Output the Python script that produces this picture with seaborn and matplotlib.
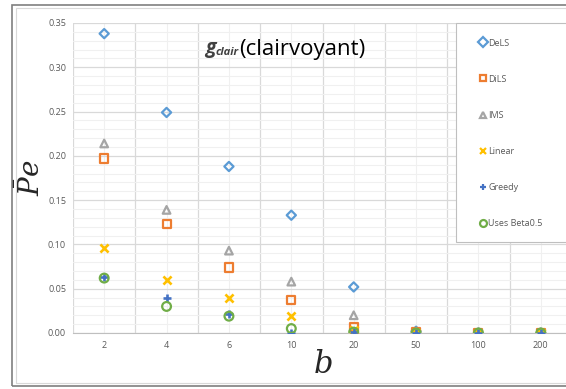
import numpy as np
import pandas as pd
import matplotlib
matplotlib.use("Agg")
import matplotlib.pyplot as plt
from matplotlib.lines import Line2D
from matplotlib.patches import Rectangle
import seaborn as sns

# datos
b_vals = ["2", "4", "6", "10", "20", "50", "100", "200"]
dels = [0.338, 0.249, 0.188, 0.133, 0.052, 0.002, 0.0, 0.0]
dils = [0.197, 0.123, 0.074, 0.037, 0.007, 0.001, 0.0, 0.0]
ims = [0.214, 0.139, 0.093, 0.058, 0.020, 0.001, 0.0, 0.0]
linear = [0.096, 0.060, 0.039, 0.019, 0.003, 0.0, 0.0, 0.0]
greedy = [0.063, 0.039, 0.021, 0.000, 0.001, 0.0, 0.0, 0.0]
beta05 = [0.062, 0.030, 0.019, 0.005, 0.001, 0.0, 0.0, 0.0]

series = ["DeLS", "DiLS", "IMS", "Linear", "Greedy", "Uses Beta0.5"]
colores = ["#5B9BD5", "#ED7D31", "#A5A5A5", "#FFC000", "#4472C4", "#70AD47"]
marcadores = ["D", "s", "^", "x", "+", "o"]
huecos = [True, True, True, False, False, True]
tamanos = [22, 34, 30, 34, 34, 40]

df = pd.DataFrame({"b": b_vals, "DeLS": dels, "DiLS": dils, "IMS": ims,
                   "Linear": linear, "Greedy": greedy, "Uses Beta0.5": beta05})
df_long = df.melt(id_vars="b", var_name="serie", value_name="Pe")

sns.set_style("white")
plt.rcParams["font.family"] = ["Open Sans", "DejaVu Sans"]
plt.rcParams["mathtext.fontset"] = "dejavuserif"

fig = plt.figure(figsize=(5.66, 3.89), dpi=100)
ax = fig.add_axes([73 / 566, 1 - 333 / 389, 499 / 566, 310 / 389])

for s, c, m, h, sz in zip(series, colores, marcadores, huecos, tamanos):
    d = df_long[df_long["serie"] == s]
    if h:
        sns.scatterplot(data=d, x="b", y="Pe", ax=ax, marker=m, s=sz,
                        facecolor="none", edgecolor=c, linewidth=1.6, zorder=3)
    else:
        sns.scatterplot(data=d, x="b", y="Pe", ax=ax, marker=m, s=sz,
                        color=c, linewidth=1.9, edgecolor=c, zorder=3)

ax.set_xlim(-0.5, 7.5)
ax.set_ylim(0, 0.35)

# ticks y rejilla
ax.set_xticks(np.arange(-0.5, 8, 1))
ax.set_xticklabels([])
ax.set_xticks(np.arange(0, 8), labels=b_vals, minor=True)
ax.set_yticks(np.arange(0, 0.351, 0.05))
ax.set_yticks(np.arange(0, 0.351, 0.01), minor=True)
ax.yaxis.set_major_formatter(matplotlib.ticker.FormatStrFormatter("%.2f"))
ax.grid(which="major", color="#D9D9D9", linewidth=0.9)
ax.grid(which="minor", color="#F0F0F0", linewidth=0.8)
ax.set_axisbelow(True)
ax.tick_params(axis="x", which="major", length=3, color="#BFBFBF", direction="out")
ax.tick_params(axis="x", which="minor", length=0, labelsize=6.5, labelcolor="#595959", pad=6)
ax.tick_params(axis="y", which="both", length=0, labelsize=6.5, labelcolor="#595959", pad=5)
for sp in ["top", "right", "left"]:
    ax.spines[sp].set_visible(False)
ax.spines["bottom"].set_color("#BFBFBF")

ax.set_xlabel(r"$b$", fontsize=22, labelpad=0)
ax.set_ylabel(r"$\bar{P}e$", fontsize=20)
ax.yaxis.set_label_coords(-0.052, 0.5)

# titulo
t1 = ax.text(205 / 566, 1 - 53 / 389, "g", transform=fig.transFigure, fontsize=14,
             fontweight="bold", fontstyle="italic", color="#404040", va="baseline")
t2 = ax.annotate("clair", xy=(1, 0), xycoords=t1, fontsize=8, fontweight="bold",
                 fontstyle="italic", color="#404040", va="bottom")
ax.annotate("(clairvoyant)", xy=(1, 0), xycoords=t2, xytext=(0, -1.8),
            textcoords="offset points", fontsize=16, color="black", va="bottom")

# leyenda
handles = []
for s, c, m, h in zip(series, colores, marcadores, huecos):
    handles.append(Line2D([], [], linestyle="none", marker=m, markersize=5,
                          markerfacecolor="none" if h else c, markeredgecolor=c,
                          markeredgewidth=1.6, label=s))
caja = Rectangle((456 / 566, 1 - 242 / 389), 120 / 566, 219 / 389, transform=fig.transFigure,
                 facecolor="white", edgecolor="#BFBFBF", linewidth=0.8, zorder=5)
fig.patches.append(caja)
leg = fig.legend(handles=handles, loc="upper left", bbox_to_anchor=(476 / 566, 1 - 34 / 389),
                 frameon=False, fontsize=6.5, labelspacing=3.0, handlelength=0.6,
                 handletextpad=0.25, borderpad=0.5, borderaxespad=0)
for t in leg.get_texts():
    t.set_color("#595959")
leg.set_zorder(6)

# marco exterior
fig.patches.append(Rectangle((12 / 566, 3 / 389), 560 / 566, 1 - 8 / 389, transform=fig.transFigure,
                             fill=False, edgecolor="#7F7F7F", linewidth=1.2))
fig.patches.append(Rectangle((16 / 566, 6 / 389), 560 / 566, 1 - 14 / 389, transform=fig.transFigure,
                             fill=False, edgecolor="#D9D9D9", linewidth=0.8))

fig.savefig("out.png", dpi=100)
